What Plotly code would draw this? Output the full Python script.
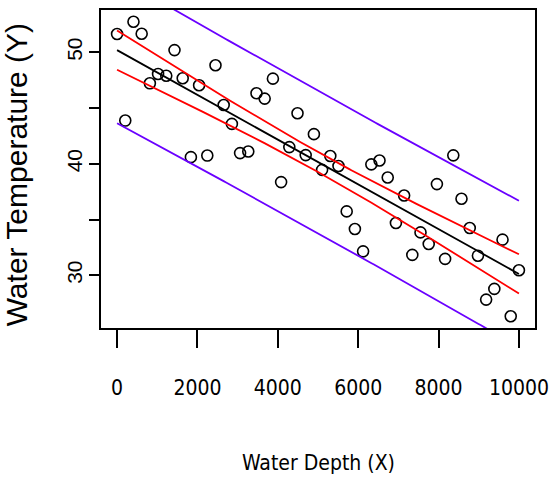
import numpy as np
import plotly.graph_objects as go

# Water depth (X) and water temperature (Y)
depth = [0, 204, 408, 612, 816, 1020, 1224, 1429, 1633, 1837,
         2041, 2245, 2449, 2653, 2857, 3061, 3265, 3469, 3673, 3878,
         4082, 4286, 4490, 4694, 4898, 5102, 5306, 5510, 5714, 5918,
         6122, 6327, 6531, 6735, 6939, 7143, 7347, 7551, 7755, 7959,
         8163, 8367, 8571, 8776, 8980, 9184, 9388, 9592, 9796, 10000]
temp = [51.64, 43.88, 52.74, 51.67, 47.22, 48.06, 47.90, 50.20, 47.67, 40.60,
        47.05, 40.74, 48.84, 45.28, 43.58, 40.96, 41.10, 46.33, 45.85, 47.64,
        38.36, 41.50, 44.54, 40.78, 42.66, 39.46, 40.70, 39.80, 35.73, 34.15,
        32.15, 39.95, 40.30, 38.77, 34.69, 37.16, 31.83, 33.85, 32.81, 38.18,
        31.47, 40.76, 36.87, 34.24, 31.76, 27.82, 28.78, 33.20, 26.33, 30.45]

x_ticks = [0, 2000, 4000, 6000, 8000, 10000]
x_ticktext = ["0", "2000", "4000", "6000", "8000", "10000"]
y_ticks = [30, 35, 40, 45, 50]
y_ticktext = ["30", "", "40", "", "50"]

# Linear fit with 95% confidence and prediction bands
x = np.array(depth, float)
y = np.array(temp, float)
n = len(x)
b1, b0 = np.polyfit(x, y, 1)
resid = y - (b0 + b1 * x)
s = np.sqrt(np.sum(resid ** 2) / (n - 2))
tq = 2.0106  # t(0.975, df=48)
sxx = np.sum((x - x.mean()) ** 2)
xg = np.linspace(x.min(), x.max(), 200)
fit = b0 + b1 * xg
se_c = s * np.sqrt(1 / n + (xg - x.mean()) ** 2 / sxx)
se_p = s * np.sqrt(1 + 1 / n + (xg - x.mean()) ** 2 / sxx)

BLUE = "#6a00ff"
RED = "#ff0000"

fig = go.Figure()
fig.add_trace(go.Scatter(x=x, y=y, mode="markers",
                         marker=dict(symbol="circle-open", size=11, color="black",
                                     line=dict(width=1.6, color="black"))))
fig.add_trace(go.Scatter(x=xg, y=fit, mode="lines", line=dict(color="black", width=1.8)))
fig.add_trace(go.Scatter(x=xg, y=fit + tq * se_c, mode="lines", line=dict(color=RED, width=1.8)))
fig.add_trace(go.Scatter(x=xg, y=fit - tq * se_c, mode="lines", line=dict(color=RED, width=1.8)))
fig.add_trace(go.Scatter(x=xg, y=fit + tq * se_p, mode="lines", line=dict(color=BLUE, width=1.8)))
fig.add_trace(go.Scatter(x=xg, y=fit - tq * se_p, mode="lines", line=dict(color=BLUE, width=1.8)))

xspan = x.max() - x.min()
yspan = y.max() - y.min()
narrow = "DejaVu Sans Condensed, Liberation Sans Narrow, Arial Narrow, Liberation Sans, sans-serif"
regular = "Liberation Sans, Arial, Helvetica, sans-serif"

fig.update_layout(
    width=549, height=481,
    margin=dict(l=101, r=14, t=10, b=153, autoexpand=False),
    paper_bgcolor="white", plot_bgcolor="white",
    showlegend=False,
    xaxis=dict(range=[x.min() - 0.04 * xspan, x.max() + 0.04 * xspan],
               tickvals=x_ticks, ticktext=x_ticktext, ticks="outside", ticklen=18,
               tickwidth=1.5, tickcolor="black", showgrid=False, zeroline=False,
               showline=True, linecolor="black", linewidth=2, mirror=True,
               automargin=False,
               tickfont=dict(family=narrow, size=21, color="black"),
               ticklabelstandoff=22),
    yaxis=dict(range=[y.min() - 0.04 * yspan, y.max() + 0.04 * yspan],
               tickvals=y_ticks, ticktext=y_ticktext, ticks="outside", ticklen=10,
               tickwidth=1.5, tickcolor="black", showgrid=False, zeroline=False,
               showline=True, linecolor="black", linewidth=2, mirror=True,
               tickangle=-90, automargin=False,
               tickfont=dict(family=regular, size=21, color="black"),
               ticklabelstandoff=-1),
    annotations=[
        dict(text="Water Depth (X)", xref="paper", yref="paper", x=0.5, y=-0.4245,
             xanchor="center", yanchor="middle", showarrow=False,
             font=dict(family=narrow, size=21, color="black")),
        dict(text="Water Temperature (Y)", xref="paper", yref="paper", x=-0.196, y=0.483,
             xanchor="center", yanchor="middle", showarrow=False, textangle=-90,
             font=dict(family=regular, size=30, color="black")),
    ],
)

fig.write_html("out.html")
